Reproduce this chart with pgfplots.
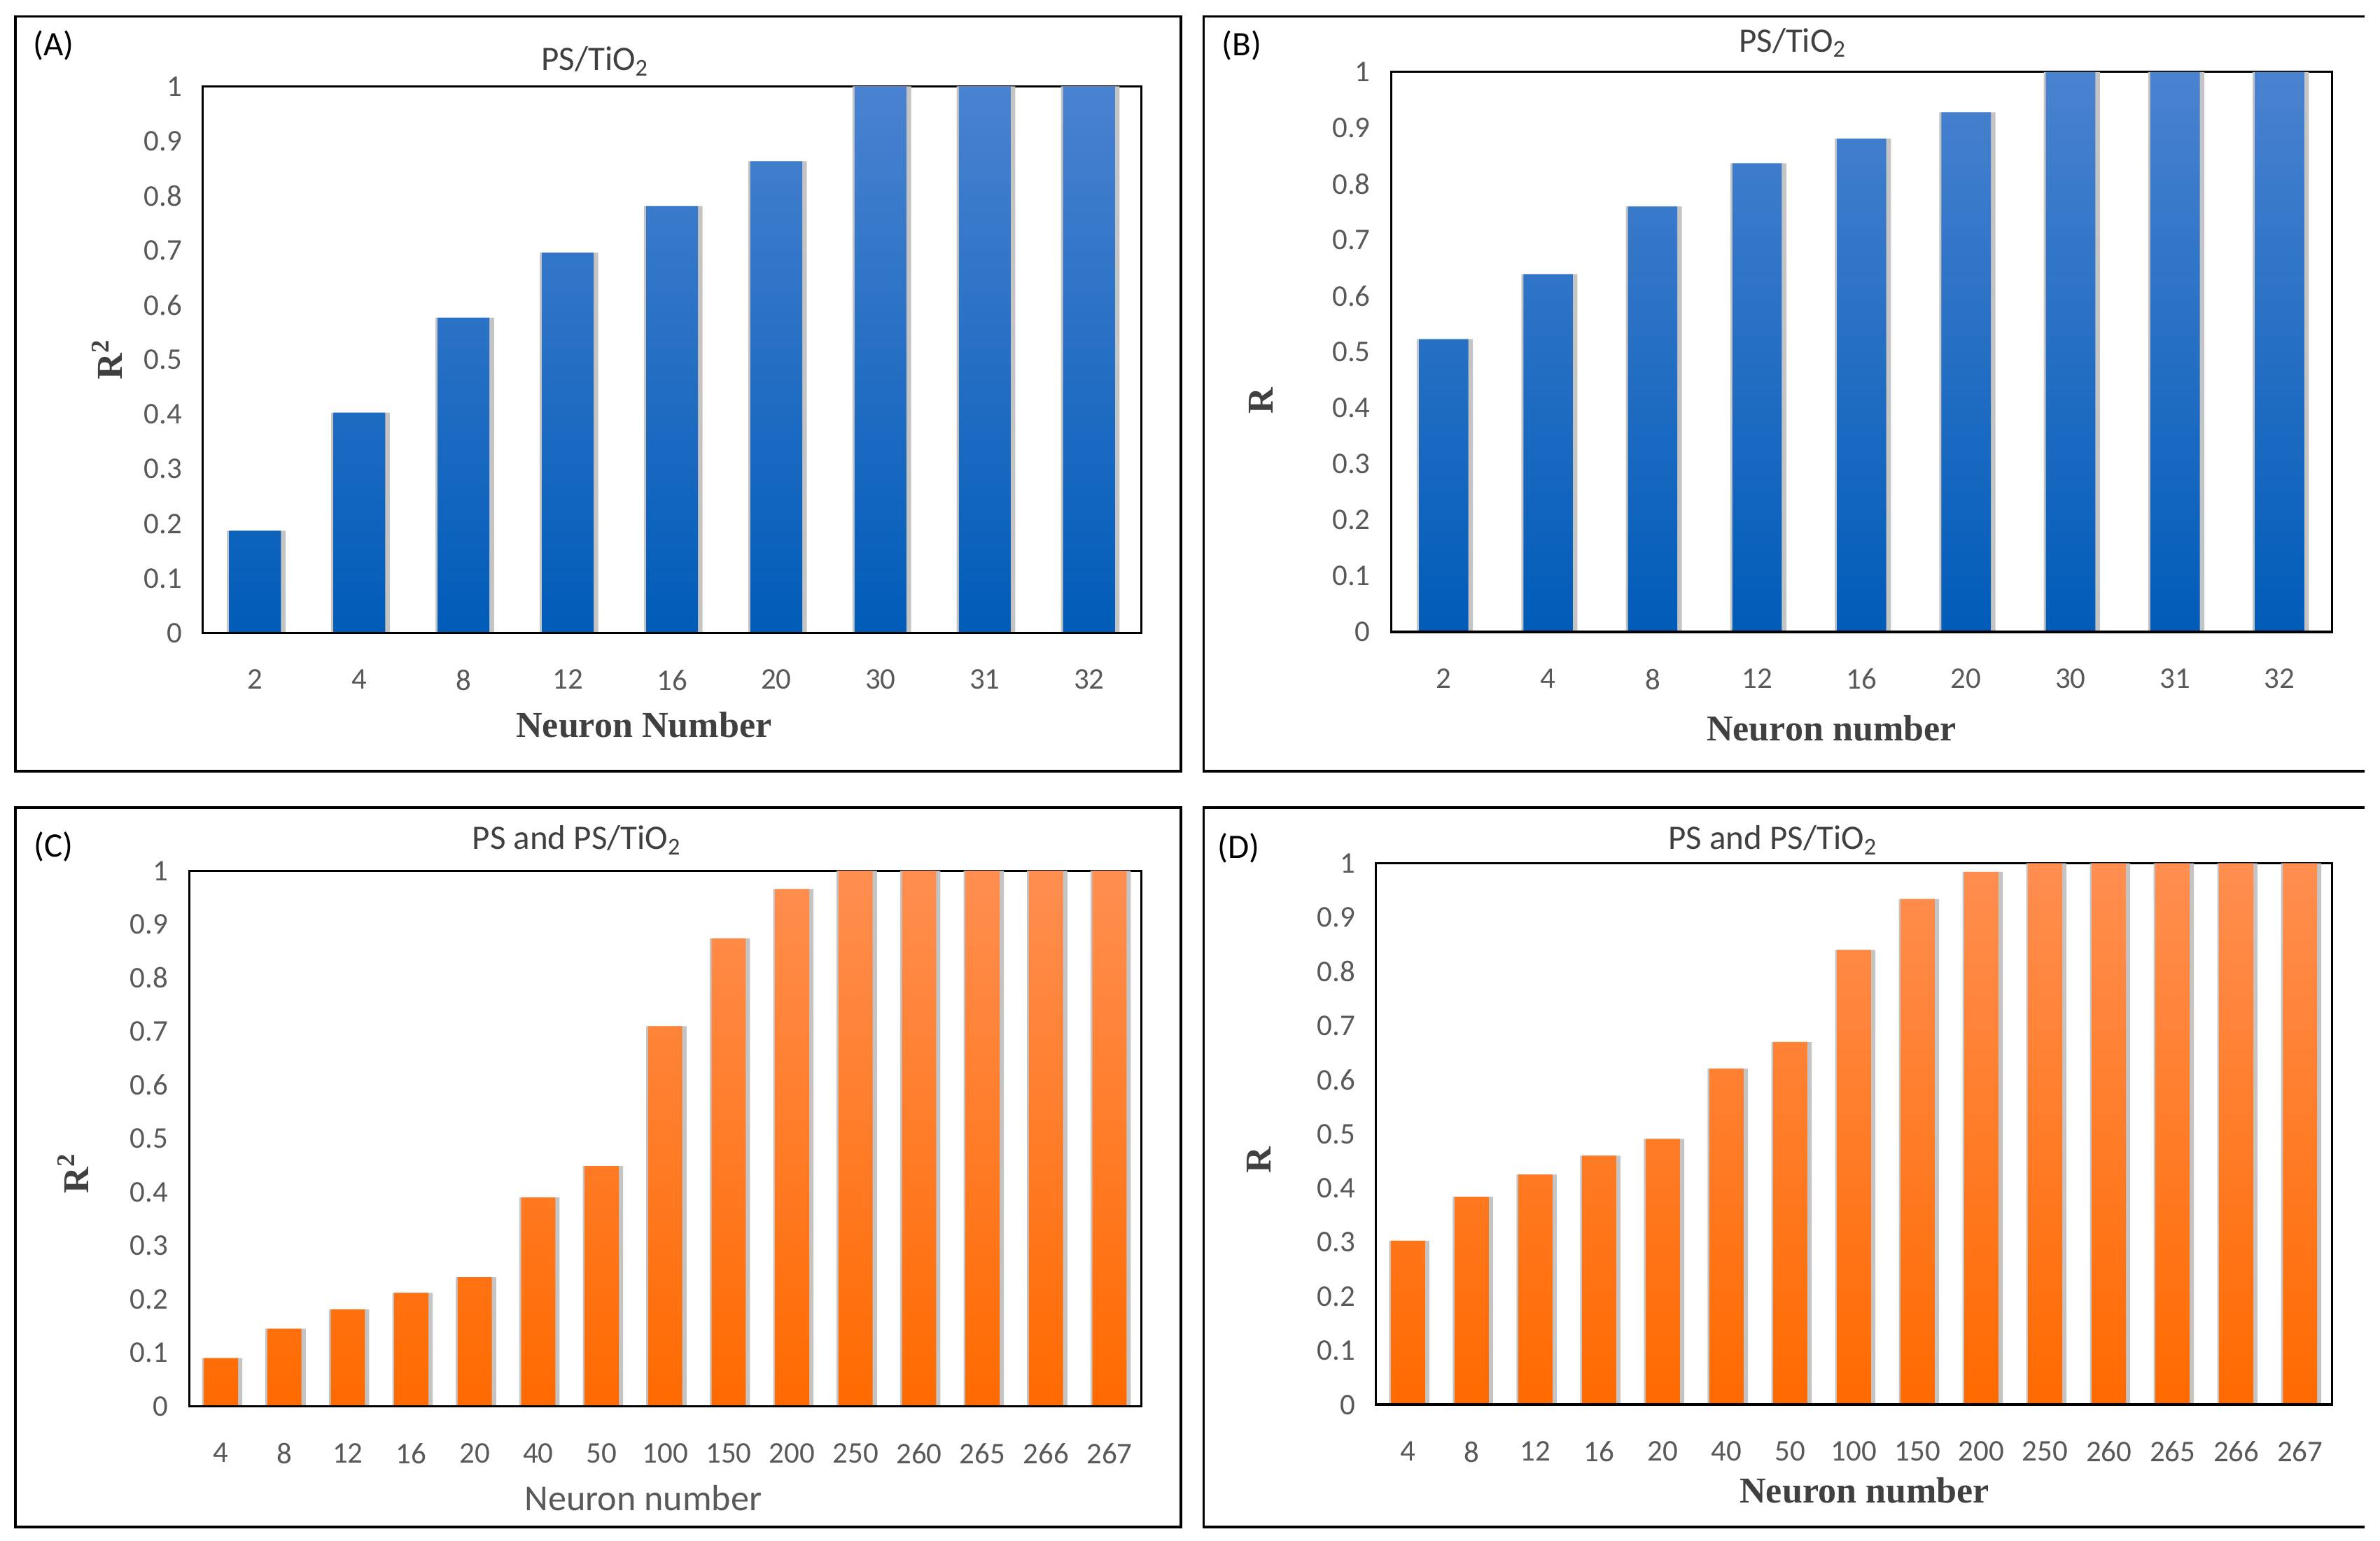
\documentclass[border=0pt]{standalone}
\usepackage{fontspec}
\setmainfont{Carlito}
\newfontfamily\serifb{Liberation Serif}
\usepackage{pgfplots}
\pgfplotsset{compat=1.18}

\definecolor{bluetop}{HTML}{4A82D0}
\definecolor{bluemid}{HTML}{0070CC}
\definecolor{bluebot}{HTML}{005CB8}
\definecolor{ortop}{HTML}{FF8E50}
\definecolor{ormid}{HTML}{FF7A22}
\definecolor{orbot}{HTML}{FF6A00}
\definecolor{txt}{HTML}{595959}
\definecolor{lbl}{HTML}{404040}
\definecolor{shade}{HTML}{C4C4C4}
\definecolor{baseline}{HTML}{D9D9D9}

\pgfplotsset{
  panel/.style={
    scale only axis,
    anchor=south west,
    ybar,
    ymin=0, ymax=1,
    ytick={0,0.1,...,1},
    xtick=data,
    major tick length=0pt,
    axis line style={black, line width=1pt},
    /pgf/number format/fixed,
    /pgf/number format/precision=1,
    /pgf/number format/assume math mode=true,
    yticklabel style={font=\fontsize{14}{14}\selectfont, text=txt, xshift=-2.2mm},
    xticklabel style={font=\fontsize{14}{14}\selectfont, text=txt, yshift=-4.8mm},
    label style={font=\serifb\bfseries\fontsize{17}{17}\selectfont, text=lbl},
  },
  bluebar/.style={draw=none, bar shift=0pt, top color=bluetop, middle color=bluemid, bottom color=bluebot},
  orbar/.style={draw=none, bar shift=0pt, top color=ortop, middle color=ormid, bottom color=orbot},
  shadowbar/.style={draw=none, fill=shade, bar shift=0.2mm},
}

\begin{document}
\begin{tikzpicture}
\path (0,0) rectangle (390mm,252.5mm);

% panel frames (B and D run off the right edge)
\draw[line width=1.2pt] (2.5mm,126.1mm) rectangle (193.5mm,249.8mm);
\draw[line width=1.2pt] (387.5mm,249.8mm) -- (197.25mm,249.8mm) -- (197.25mm,126.1mm) -- (387.5mm,126.1mm);
\draw[line width=1.2pt] (2.5mm,2.25mm) rectangle (193.5mm,120.1mm);
\draw[line width=1.2pt] (387.5mm,120.1mm) -- (197.25mm,120.1mm) -- (197.25mm,2.25mm) -- (387.5mm,2.25mm);

% panel letters and titles
\node[font=\fontsize{16}{16}\selectfont] at (8.75mm,245mm) {(A)};
\node[font=\fontsize{16}{16}\selectfont] at (203.5mm,245mm) {(B)};
\node[font=\fontsize{16}{16}\selectfont] at (8.75mm,113.75mm) {(C)};
\node[font=\fontsize{16}{16}\selectfont] at (203mm,113.5mm) {(D)};
\node[font=\fontsize{16}{16}\selectfont, text=lbl] at (97.5mm,242.5mm) {PS/TiO\textsubscript{2}};
\node[font=\fontsize{16}{16}\selectfont, text=lbl] at (293.75mm,245.5mm) {PS/TiO\textsubscript{2}};
\node[font=\fontsize{16}{16}\selectfont, text=lbl] at (94.5mm,114.75mm) {PS and PS/TiO\textsubscript{2}};
\node[font=\fontsize{16}{16}\selectfont, text=lbl] at (290.5mm,114.75mm) {PS and PS/TiO\textsubscript{2}};

% (A) R^2, PS/TiO2
\begin{axis}[panel,
  at={(33.25mm,148.75mm)}, width=153.75mm, height=89.6mm,
  xmin=-0.5, xmax=8.5,
  xticklabels={2,4,8,12,16,20,30,31,32},
  xlabel={Neuron Number}, ylabel={R\textsuperscript{2}},
  xlabel style={at={(axis description cs:0.47,-0.168)}, anchor=center},
  ylabel style={at={(axis description cs:-0.102,0.5)}, anchor=center},
]
\addplot[shadowbar, bar width=9.6mm] coordinates {(0,0.187) (1,0.403) (2,0.577) (3,0.696) (4,0.781) (5,0.863) (6,1) (7,1) (8,1)};
\addplot[bluebar, bar width=8.5mm] coordinates {(0,0.187) (1,0.403) (2,0.577) (3,0.696) (4,0.781) (5,0.863) (6,1) (7,1) (8,1)};
\draw[baseline, line width=1.2pt] (rel axis cs:0,0) -- (rel axis cs:1,0);
\end{axis}

% (B) R, PS/TiO2
\begin{axis}[panel,
  at={(228mm,148.9mm)}, width=154.1mm, height=91.8mm,
  xmin=-0.5, xmax=8.5,
  xticklabels={2,4,8,12,16,20,30,31,32},
  xlabel={Neuron number}, ylabel={R},
  xlabel style={at={(axis description cs:0.468,-0.172)}, anchor=center},
  ylabel style={at={(axis description cs:-0.139,0.413)}, anchor=center},
]
\addplot[shadowbar, bar width=9.2mm] coordinates {(0,0.523) (1,0.639) (2,0.76) (3,0.837) (4,0.881) (5,0.928) (6,1) (7,1) (8,1)};
\addplot[bluebar, bar width=8.1mm] coordinates {(0,0.523) (1,0.639) (2,0.76) (3,0.837) (4,0.881) (5,0.928) (6,1) (7,1) (8,1)};
\draw[baseline, line width=1.2pt] (rel axis cs:0,0) -- (rel axis cs:1,0);
\end{axis}

% (C) R^2, PS and PS/TiO2
\begin{axis}[panel,
  at={(31mm,22mm)}, width=156mm, height=87.75mm,
  xmin=-0.5, xmax=14.5,
  xticklabels={4,8,12,16,20,40,50,100,150,200,250,260,265,266,267},
  xlabel={Neuron number}, ylabel={R\textsuperscript{2}},
  xlabel style={at={(axis description cs:0.477,-0.172)}, anchor=center,
    font=\fontsize{17}{17}\selectfont, text=txt},
  ylabel style={at={(axis description cs:-0.122,0.435)}, anchor=center},
]
\addplot[shadowbar, bar width=6.6mm] coordinates {(0,0.09) (1,0.145) (2,0.181) (3,0.212) (4,0.241) (5,0.39) (6,0.449) (7,0.71) (8,0.874) (9,0.966) (10,1) (11,1) (12,1) (13,1) (14,1)};
\addplot[orbar, bar width=5.6mm] coordinates {(0,0.09) (1,0.145) (2,0.181) (3,0.212) (4,0.241) (5,0.39) (6,0.449) (7,0.71) (8,0.874) (9,0.966) (10,1) (11,1) (12,1) (13,1) (14,1)};
\draw[baseline, line width=1.2pt] (rel axis cs:0,0) -- (rel axis cs:1,0);
\end{axis}

% (D) R, PS and PS/TiO2
\begin{axis}[panel,
  at={(225.5mm,22.25mm)}, width=156.6mm, height=88.75mm,
  xmin=-0.5, xmax=14.5,
  xticklabels={4,8,12,16,20,40,50,100,150,200,250,260,265,266,267},
  xlabel={Neuron number}, ylabel={R},
  xlabel style={at={(axis description cs:0.511,-0.158)}, anchor=center},
  ylabel style={at={(axis description cs:-0.123,0.452)}, anchor=center},
]
\addplot[shadowbar, bar width=6.6mm] coordinates {(0,0.303) (1,0.384) (2,0.425) (3,0.46) (4,0.491) (5,0.621) (6,0.67) (7,0.84) (8,0.934) (9,0.984) (10,1) (11,1) (12,1) (13,1) (14,1)};
\addplot[orbar, bar width=5.6mm] coordinates {(0,0.303) (1,0.384) (2,0.425) (3,0.46) (4,0.491) (5,0.621) (6,0.67) (7,0.84) (8,0.934) (9,0.984) (10,1) (11,1) (12,1) (13,1) (14,1)};
\draw[baseline, line width=1.2pt] (rel axis cs:0,0) -- (rel axis cs:1,0);
\end{axis}
\end{tikzpicture}
\end{document}
